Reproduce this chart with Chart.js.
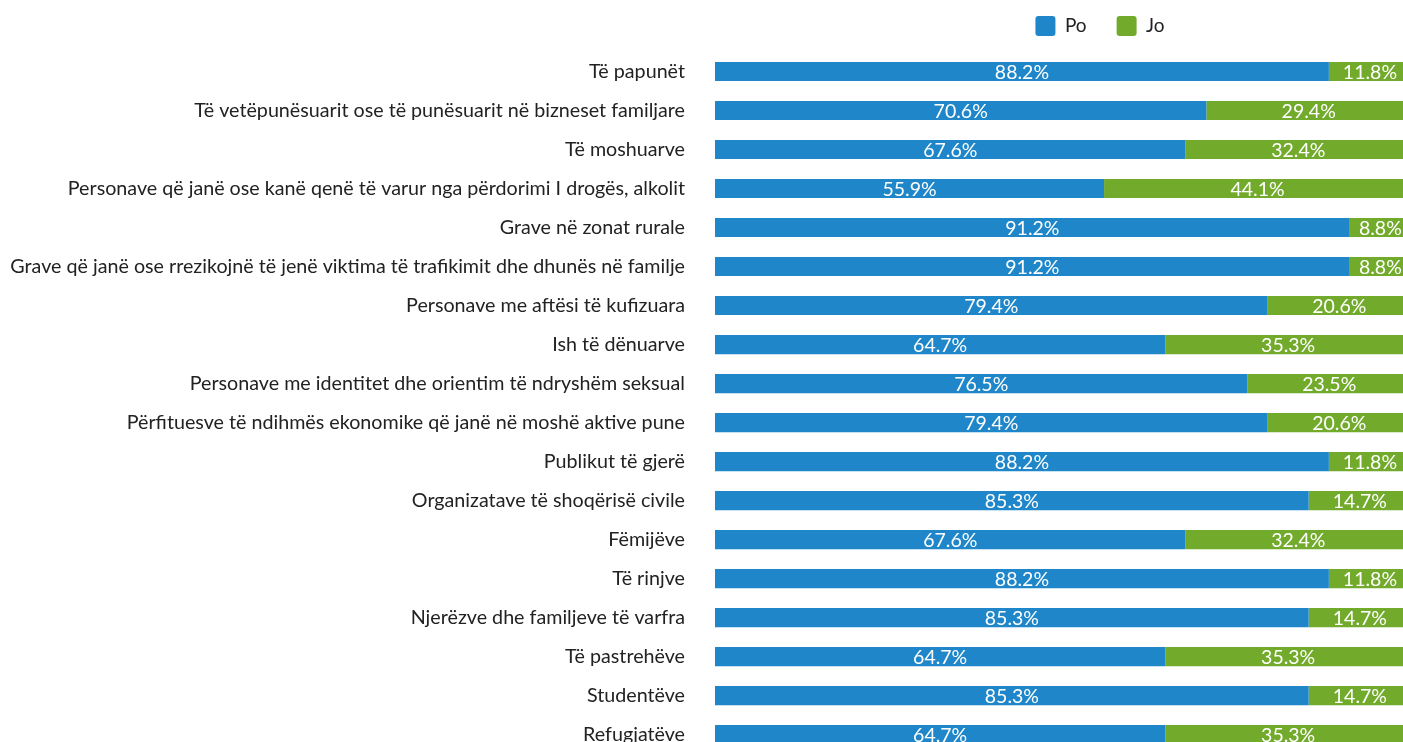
<!DOCTYPE html>
<html>
<head>
<meta charset="utf-8">
<script src="https://cdn.jsdelivr.net/npm/chart.js@4/dist/chart.umd.min.js"></script>
<style>
  html, body { margin: 0; padding: 0; background: #fff; overflow: hidden; }
  canvas { display: block; }
</style>
</head>
<body>
<canvas id="chart" width="1411" height="788"></canvas>
<script>
// ========== Data ==========
const categories = [
  'Të papunët',
  'Të vetëpunësuarit ose të punësuarit në bizneset familjare',
  'Të moshuarve',
  'Personave që janë ose kanë qenë të varur nga përdorimi I drogës, alkolit',
  'Grave në zonat rurale',
  'Grave që janë ose rrezikojnë të jenë viktima të trafikimit dhe dhunës në familje',
  'Personave me aftësi të kufizuara',
  'Ish të dënuarve',
  'Personave me identitet dhe orientim të ndryshëm seksual',
  'Përfituesve të ndihmës ekonomike që janë në moshë aktive pune',
  'Publikut të gjerë',
  'Organizatave të shoqërisë civile',
  'Fëmijëve',
  'Të rinjve',
  'Njerëzve dhe familjeve të varfra',
  'Të pastrehëve',
  'Studentëve',
  'Refugjatëve'
];
const poValues = [88.2, 70.6, 67.6, 55.9, 91.2, 91.2, 79.4, 64.7, 76.5, 79.4, 88.2, 85.3, 67.6, 88.2, 85.3, 64.7, 85.3, 64.7];
const joValues = [11.8, 29.4, 32.4, 44.1, 8.8, 8.8, 20.6, 35.3, 23.5, 20.6, 11.8, 14.7, 32.4, 11.8, 14.7, 35.3, 14.7, 35.3];

const BLUE = '#1f87c9';
const GREEN = '#72ab2c';
const FONT = 'Lato, "Open Sans", sans-serif';

// ========== Plugins ==========
// white value labels centred in each segment
const valueLabels = {
  id: 'valueLabels',
  afterDatasetsDraw(chart) {
    const ctx = chart.ctx;
    ctx.save();
    ctx.fillStyle = '#fff';
    ctx.font = '19.5px ' + FONT;
    ctx.textAlign = 'center';
    ctx.textBaseline = 'middle';
    chart.data.datasets.forEach((ds, i) => {
      chart.getDatasetMeta(i).data.forEach((bar, j) => {
        const p = bar.getProps(['x', 'y', 'base'], true);
        ctx.fillText(ds.data[j].toFixed(1) + '%', (p.x + p.base) / 2, p.y + 1);
      });
    });
    ctx.restore();
  }
};

// legend: fixed height, moved to the right like the original
const legendPlace = {
  id: 'legendPlace',
  beforeLayout(chart) {
    const lg = chart.legend;
    if (lg && !lg._patched) {
      const fit = lg.fit;
      lg.fit = function () { fit.call(this); this.height = 52; };
      lg._patched = true;
    }
  },
  afterLayout(chart) {
    const lg = chart.legend;
    const dx = 1100 - (lg.left + lg.right) / 2;
    lg.left += dx;
    lg.right += dx;
    const dy = 26 - (lg.top + 30 + 10);
    lg.top += dy;
    lg.bottom += dy;
  }
};

// ========== Chart ==========
new Chart(document.getElementById('chart'), {
  type: 'bar',
  data: {
    labels: categories,
    datasets: [
      { label: 'Po', data: poValues, backgroundColor: BLUE, barPercentage: 0.49, categoryPercentage: 1 },
      { label: 'Jo', data: joValues, backgroundColor: GREEN, barPercentage: 0.49, categoryPercentage: 1 }
    ]
  },
  options: {
    indexAxis: 'y',
    responsive: false,
    devicePixelRatio: 1,
    animation: false,
    layout: { padding: { top: 0, bottom: 6, left: 0, right: 0 } },
    plugins: {
      tooltip: { enabled: false },
      legend: {
        position: 'top',
        align: 'center',
        labels: {
          boxWidth: 20,
          boxHeight: 20,
          useBorderRadius: true,
          borderRadius: 3,
          padding: 30,
          color: '#222',
          font: { family: FONT, size: 19 }
        }
      }
    },
    scales: {
      x: {
        stacked: true,
        min: 0,
        max: 100,
        display: false
      },
      y: {
        stacked: true,
        grid: { display: false },
        border: { display: false },
        afterFit(scale) { scale.width = 715; },
        ticks: {
          padding: 22,
          color: '#222',
          autoSkip: false,
          font: { family: FONT, size: 19.7 }
        }
      }
    }
  },
  plugins: [valueLabels, legendPlace]
});
</script>
</body>
</html>
